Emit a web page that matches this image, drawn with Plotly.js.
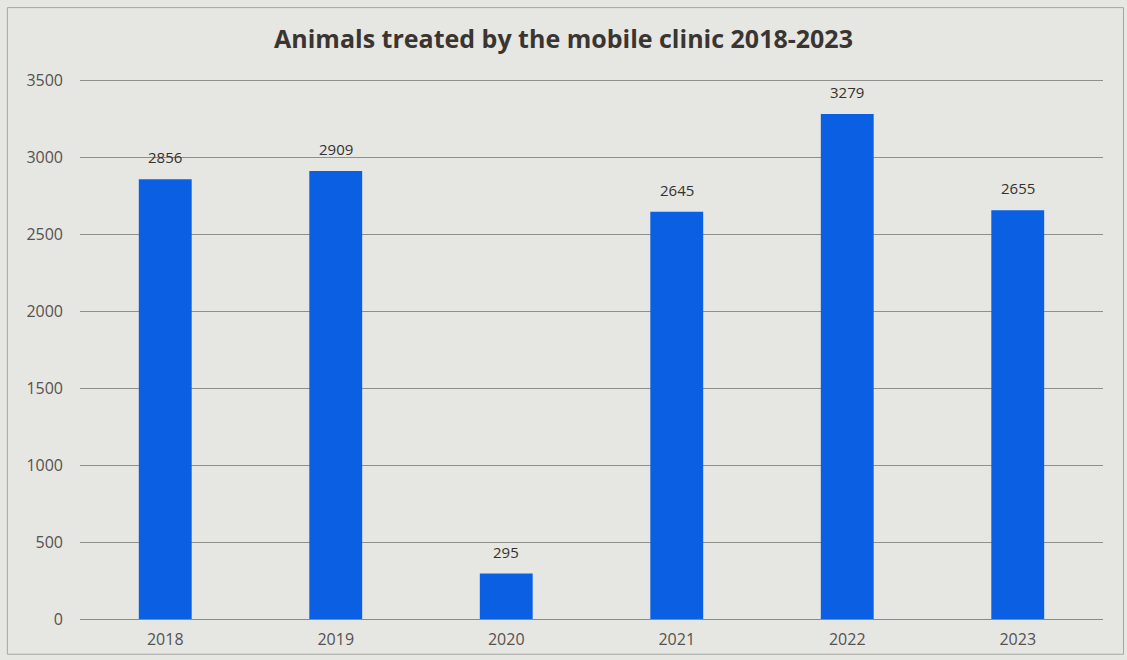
<!DOCTYPE html>
<html>
<head>
<meta charset="utf-8">
<script src="https://cdn.plot.ly/plotly-3.0.1.min.js"></script>
<style>
html,body{margin:0;padding:0;background:#e6e6e3;}
#chart{width:1127px;height:660px;}
</style>
</head>
<body>
<div id="chart"></div>
<script>
const years = ["2018", "2019", "2020", "2021", "2022", "2023"];
const animalsTreated = [2856, 2909, 295, 2645, 3279, 2655];
const yTicks = [0, 500, 1000, 1500, 2000, 2500, 3000, 3500];
const chartTitle = "Animals treated by the mobile clinic 2018-2023";

const trace = {
  type: "bar",
  x: years,
  y: animalsTreated,
  width: 0.31,
  marker: {color: "#0a5fe2"},
  hoverinfo: "x+y"
};

// category axis: annotations are placed by category index
const labelAnnotations = years.map((yr, i) => ({
  x: i, y: animalsTreated[i], xref: "x", yref: "y",
  text: String(animalsTreated[i]),
  showarrow: false, yanchor: "bottom", yshift: 10,
  font: {family: "Open Sans, sans-serif", size: 15, color: "#35312d"}
}));

const layout = {
  width: 1127,
  height: 660,
  paper_bgcolor: "#e6e6e3",
  plot_bgcolor: "#e6e6e3",
  margin: {l: 80, r: 24, t: 77, b: 41},
  title: {
    text: "<b>" + chartTitle + "</b>",
    x: 0.5, xanchor: "center",
    y: 0.94, yanchor: "middle",
    font: {family: "Open Sans, sans-serif", size: 25, color: "#3a3530"}
  },
  xaxis: {
    type: "category",
    categoryarray: years,
    range: [-0.5, years.length - 0.5],
    showgrid: false,
    showline: true,
    linecolor: "#8a8a88",
    linewidth: 1,
    ticks: "",
    tickfont: {family: "Open Sans, sans-serif", size: 16, color: "#55524f"},
    ticklabelstandoff: 6
  },
  yaxis: {
    range: [0, 3520],
    tickvals: yTicks,
    ticktext: yTicks.map(String),
    showgrid: true,
    gridcolor: "#8f8f8d",
    gridwidth: 1,
    zeroline: false,
    showline: false,
    ticks: "",
    tickfont: {family: "Open Sans, sans-serif", size: 16, color: "#55524f"},
    ticklabelstandoff: 16
  },
  annotations: labelAnnotations,
  showlegend: false,
  shapes: [{
    type: "rect", xref: "paper", yref: "paper",
    x0: -0.071, x1: 1.02, y0: -0.065, y1: 1.128,
    line: {color: "#a5a5a2", width: 1}
  }]
};

Plotly.newPlot("chart", [trace], layout, {displayModeBar: false, staticPlot: true});
</script>
</body>
</html>
